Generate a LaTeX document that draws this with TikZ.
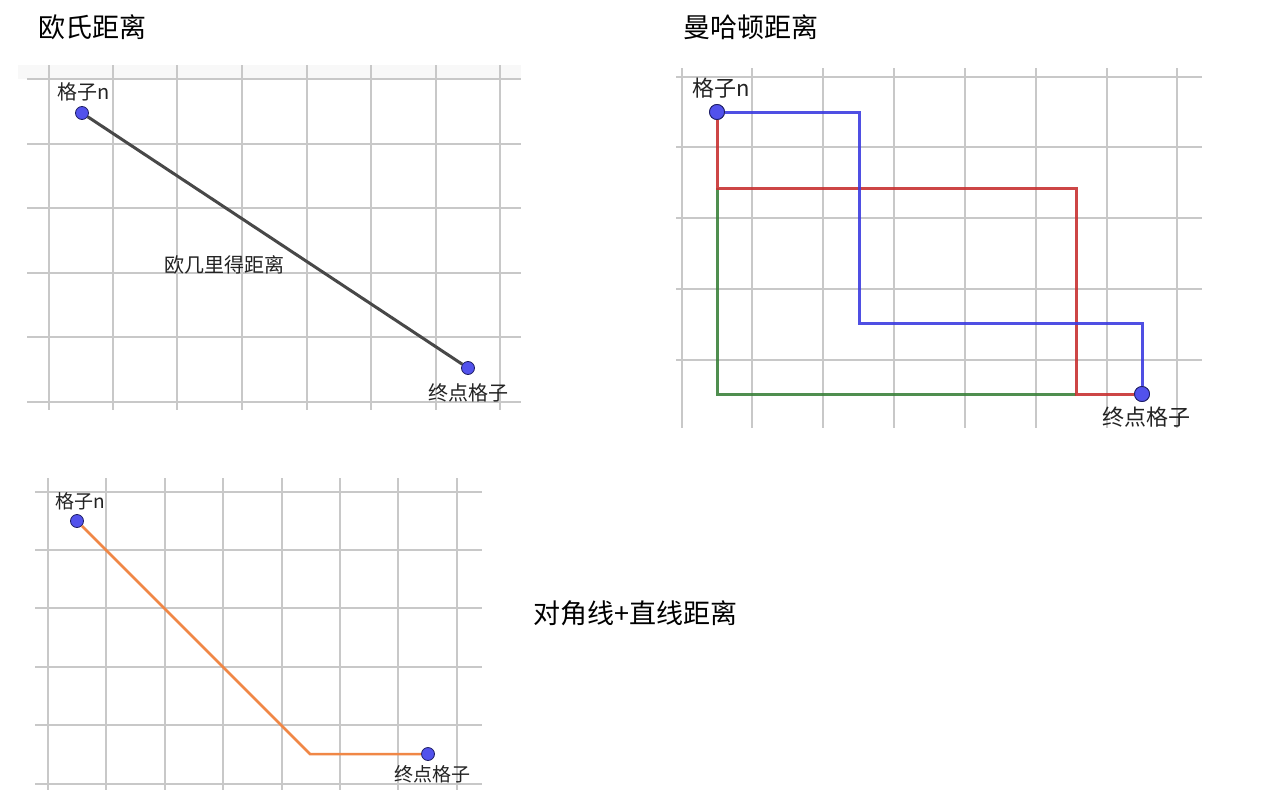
\documentclass[tikz,border=0pt]{standalone}
\usepackage{fontspec}
\setmainfont{Noto Sans CJK SC}
\definecolor{gridc}{RGB}{200,200,200}
\definecolor{dotfill}{RGB}{82,82,236}
\definecolor{dotedge}{RGB}{30,30,100}
\definecolor{euclc}{RGB}{72,72,72}
\definecolor{bluec}{RGB}{60,60,225}
\definecolor{redc}{RGB}{200,50,50}
\definecolor{greenc}{RGB}{60,130,60}
\definecolor{orangec}{RGB}{240,135,70}
\definecolor{txtc}{RGB}{35,35,35}
\definecolor{stripc}{RGB}{248,248,248}
\begin{document}
\begin{tikzpicture}[x=1pt,y=-1pt,
  gridline/.style={draw=gridc,line width=1.1pt},
  dot/.style={circle,fill=dotfill,draw=dotedge,line width=0.8pt,inner sep=0pt,minimum size=13pt},
  bigdot/.style={dot,minimum size=15pt},
  lbl/.style={font=\fontsize{20}{23}\selectfont,text=txtc,inner sep=0pt},
  smlbl/.style={font=\fontsize{19}{22}\selectfont,text=txtc,inner sep=0pt},
  biglbl/.style={font=\fontsize{22}{25}\selectfont,text=txtc,inner sep=0pt},
  heading/.style={font=\fontsize{27}{31}\selectfont,anchor=west,inner sep=0pt,text=black},
  path1/.style={draw=euclc,line width=3pt},
  pathb/.style={draw=bluec,line width=3pt,opacity=0.9},
  pathr/.style={draw=redc,line width=3pt,opacity=0.9},
  pathg/.style={draw=greenc,line width=3pt,opacity=0.9},
  patho/.style={draw=orangec,line width=2.5pt}]
\useasboundingbox (0,0) rectangle (1278,790);
\fill[white] (0,0) rectangle (1278,790);

% headings
\node[heading] (h1) at (38,27) {欧氏距离};
\node[heading] (h2) at (683,27) {曼哈顿距离};
\node[heading] (h3) at (533,613) {对角线+直线距离};

% ---------- panel 1 ----------
\fill[stripc] (18,65) rectangle (521,79);
\foreach \x in {49,113,177,242,307,371,436,500} \draw[gridline] (\x,65) -- (\x,410);
\foreach \y in {79,144,208,273,337,402} \draw[gridline] (27,\y) -- (521,\y);
\node[dot] (s1) at (82,113) {};
\node[dot] (e1) at (468,368) {};
\draw[path1] (s1) -- (e1);
\node[lbl] (ls1) at (84,92) {格子n};
\node[lbl] (le1) at (468,393) {终点格子};
\node[lbl] (lm1) at (224,265) {欧几里得距离};

% ---------- panel 2 ----------
\foreach \x in {682,752,823,894,965,1036,1107,1177} \draw[gridline] (\x,68) -- (\x,428);
\foreach \y in {77,147,218,289,360} \draw[gridline] (676,\y) -- (1202,\y);
\node[bigdot] (s2) at (717,112) {};
\node[bigdot] (e2) at (1142,394) {};
\coordinate (r1) at (717,188);
\coordinate (r2) at (1076,188);
\coordinate (r3) at (1076,394);
\coordinate (g1) at (717,394);
\coordinate (b1) at (859,112);
\coordinate (b2) at (859,323);
\coordinate (b3) at (1142,323);
\draw[pathg] (r1) -- (g1) -- (r3);
\draw[pathr] (s2) -- (r1) -- (r2) -- (r3) -- (e2);
\draw[pathb] (s2) -- (b1) -- (b2) -- (b3) -- (e2);
\node[bigdot] at (s2) {};
\node[bigdot] at (e2) {};
\node[biglbl] (ls2) at (721,88) {格子n};
\node[biglbl] (le2) at (1146,417) {终点格子};

% ---------- panel 3 ----------
\foreach \x in {48,106,165,223,282,340,398,457} \draw[gridline] (\x,478) -- (\x,790);
\foreach \y in {492,550,608,667,725,784} \draw[gridline] (35,\y) -- (482,\y);
\node[dot] (s3) at (77,521) {};
\node[dot] (e3) at (428,754) {};
\coordinate (o1) at (310,754);
\draw[patho] (s3) -- (o1) -- (e3);
\node[smlbl] (ls3) at (80,501) {格子n};
\node[smlbl] (le3) at (432,774) {终点格子};
\end{tikzpicture}
\end{document}
